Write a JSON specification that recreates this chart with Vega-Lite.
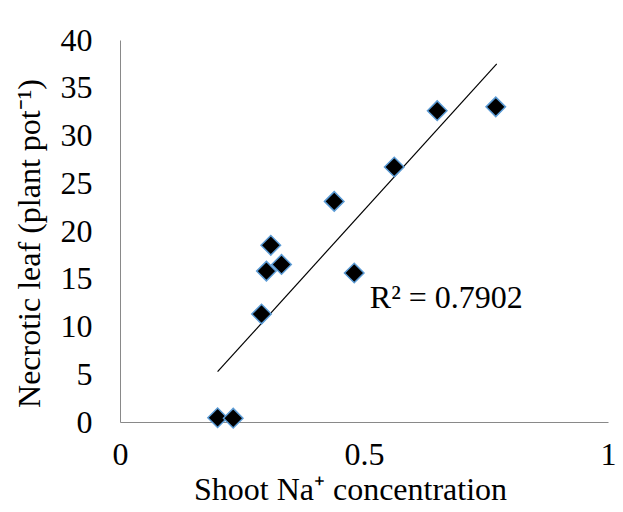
{
  "$schema": "https://vega.github.io/schema/vega-lite/v6.json",
  "width": 488,
  "height": 382,
  "autosize": {"type": "none"},
  "padding": {"left": 120, "top": 40, "right": 15, "bottom": 90},
  "background": "white",
  "config": {
    "view": {"stroke": null},
    "font": "Liberation Serif",
    "style": {
      "guide-label": {"font": "Liberation Serif", "fontSize": 32, "fill": "black"},
      "guide-title": {"font": "Liberation Serif", "fontSize": 32, "fill": "black", "fontWeight": "normal"}
    },
    "axis": {"grid": false, "ticks": false, "domainColor": "#898989", "domainWidth": 1, "labelFont": "Liberation Serif", "titleFont": "Liberation Serif", "labelFontSize": 32, "titleFontSize": 32, "labelColor": "black", "titleColor": "black", "titleFontWeight": "normal"}
  },
  "layer": [
    {
      "data": {"values": [{"x1": 0.2, "y1": 5.27, "x2": 0.772, "y2": 37.5}]},
      "mark": {"type": "rule", "color": "black", "strokeWidth": 1.2},
      "encoding": {
        "x": {"field": "x1", "type": "quantitative"},
        "y": {"field": "y1", "type": "quantitative"},
        "x2": {"field": "x2"},
        "y2": {"field": "y2"}
      }
    },
    {
      "data": {"values": [
        {"na": 0.2, "leaf": 0.45},
        {"na": 0.232, "leaf": 0.4},
        {"na": 0.29, "leaf": 11.3},
        {"na": 0.3, "leaf": 15.8},
        {"na": 0.309, "leaf": 18.5},
        {"na": 0.331, "leaf": 16.5},
        {"na": 0.439, "leaf": 23.1},
        {"na": 0.48, "leaf": 15.6},
        {"na": 0.562, "leaf": 26.7},
        {"na": 0.65, "leaf": 32.6},
        {"na": 0.77, "leaf": 33.0}
      ]},
      "mark": {"type": "point", "shape": "diamond", "filled": true, "fill": "black", "stroke": "#5b9bd5", "strokeWidth": 1.5, "opacity": 1, "size": 380},
      "encoding": {
        "x": {"field": "na", "type": "quantitative", "scale": {"domain": [0, 1], "nice": false, "zero": true}, "axis": {"values": [0, 0.5, 1], "format": "~g", "title": "Shoot Na⁺ concentration", "labelFont": "Liberation Serif", "titleFont": "Liberation Serif", "labelFontSize": 32, "titleFontSize": 32, "labelPadding": 17, "titlePadding": 4, "titleX": 230, "labelFlush": false}},
        "y": {"field": "leaf", "type": "quantitative", "scale": {"domain": [0, 40], "nice": false}, "axis": {"values": [0, 5, 10, 15, 20, 25, 30, 35, 40], "title": "Necrotic leaf (plant pot⁻¹)", "labelFont": "Liberation Serif", "titleFont": "Liberation Serif", "labelFontSize": 32, "titleFontSize": 32, "labelPadding": 28, "titlePadding": 14, "titleY": 203}}
      }
    },
    {
      "data": {"values": [{"x": 0.512, "y": 13.0, "label": "R² = 0.7902"}]},
      "mark": {"type": "text", "align": "left", "baseline": "middle", "fontSize": 32, "font": "Liberation Serif", "color": "black"},
      "encoding": {
        "x": {"field": "x", "type": "quantitative"},
        "y": {"field": "y", "type": "quantitative"},
        "text": {"field": "label"}
      }
    }
  ]
}
